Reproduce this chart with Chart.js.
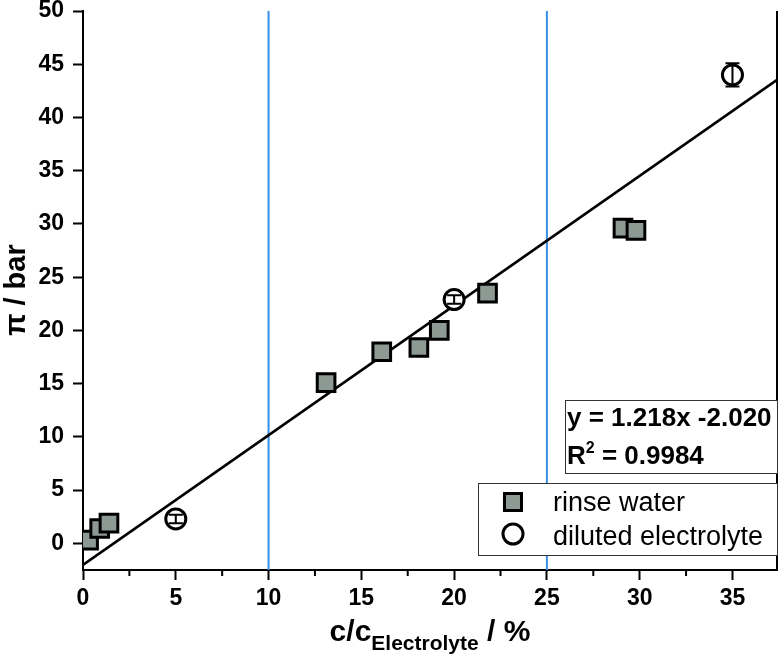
<!DOCTYPE html>
<html>
<head>
<meta charset="utf-8">
<script src="https://cdn.jsdelivr.net/npm/chart.js@4.4.0/dist/chart.umd.min.js"></script>
<style>
  html, body { margin: 0; padding: 0; background: #fff; }
</style>
</head>
<body>
<canvas id="chart" width="780" height="656"></canvas>
<script>
// data
const rinseX = [0.3, 0.9, 1.4, 13.1, 16.1, 18.1, 19.2, 21.8, 29.1, 29.8];
const rinseY = [0.3, 1.4, 1.9, 15.1, 18.0, 18.4, 20.0, 23.5, 29.6, 29.4];
const dilutedX = [5, 20, 35];
const dilutedY = [2.3, 22.9, 44.0];
const dilutedErr = [0.4, 0.4, 1.1];
const fitSlope = 1.218;
const fitIntercept = -2.020;
const guideLines = [10, 25];
const xTicks = [0, 5, 10, 15, 20, 25, 30, 35];
const xMinorTicks = [2.5, 7.5, 12.5, 17.5, 22.5, 27.5, 32.5];
const yTicks = [0, 5, 10, 15, 20, 25, 30, 35, 40, 45, 50];
const xMin = 0, xMax = 37.4, yMin = -2.5, yMax = 50;

const FONT = '"Liberation Sans", Arial, sans-serif';
const rinseColor = '#8d9993';

// keep tick labels from pushing the plot area in
const noPad = s => {
    s.paddingLeft = 0; s.paddingRight = 0; s.paddingTop = 0; s.paddingBottom = 0;
    s.getPadding = () => ({ left: 0, top: 0, right: 0, bottom: 0 });
};

// extra drawing: right frame, minor ticks, error bars, titles, boxes
const decorations = {
    id: 'decorations',
    afterDatasetsDraw(chart) {
        const ctx = chart.ctx;
        const xs = chart.scales.x, ys = chart.scales.y;
        ctx.save();
        ctx.strokeStyle = '#000';
        ctx.lineWidth = 2;
        dilutedX.forEach((v, i) => {
            const px = xs.getPixelForValue(v);
            const top = ys.getPixelForValue(dilutedY[i] + dilutedErr[i]);
            const bot = ys.getPixelForValue(dilutedY[i] - dilutedErr[i]);
            ctx.beginPath();
            ctx.moveTo(px, top); ctx.lineTo(px, bot);
            ctx.moveTo(px - 7, top); ctx.lineTo(px + 7, top);
            ctx.moveTo(px - 7, bot); ctx.lineTo(px + 7, bot);
            ctx.stroke();
        });
        ctx.restore();
    },
    afterDraw(chart) {
        const ctx = chart.ctx;
        const xs = chart.scales.x;
        const area = chart.chartArea;
        ctx.save();
        ctx.strokeStyle = '#000';
        ctx.lineWidth = 2;
        // right frame
        ctx.beginPath();
        ctx.moveTo(area.right, area.top);
        ctx.lineTo(area.right, area.bottom + 1);
        ctx.stroke();
        // minor ticks on x
        ctx.beginPath();
        xMinorTicks.forEach(v => {
            const px = xs.getPixelForValue(v);
            ctx.moveTo(px, area.bottom);
            ctx.lineTo(px, area.bottom + 6);
        });
        ctx.stroke();

        // equation box
        ctx.lineWidth = 1;
        ctx.strokeStyle = '#333';
        ctx.fillStyle = '#fff';
        ctx.fillRect(565, 400, area.right - 565, 73);
        ctx.strokeRect(565.5, 400.5, area.right - 565, 73);
        ctx.fillStyle = '#000';
        ctx.textAlign = 'left';
        ctx.textBaseline = 'alphabetic';
        ctx.font = 'bold 26px ' + FONT;
        ctx.fillText('y = 1.218x -2.020', 567, 426);
        ctx.fillText('R', 567, 464);
        const w = ctx.measureText('R').width;
        ctx.font = 'bold 16px ' + FONT;
        ctx.fillText('2', 567 + w, 453);
        const w2 = ctx.measureText('2').width;
        ctx.font = 'bold 26px ' + FONT;
        ctx.fillText(' = 0.9984', 567 + w + w2, 464);

        // legend box
        ctx.fillStyle = '#fff';
        ctx.fillRect(478, 483, area.right - 478, 72);
        ctx.strokeRect(478.5, 483.5, area.right - 478, 72);
        ctx.lineWidth = 3;
        ctx.strokeStyle = '#000';
        ctx.fillStyle = rinseColor;
        ctx.fillRect(504.5, 493.5, 17, 17);
        ctx.strokeRect(504.5, 493.5, 17, 17);
        ctx.fillStyle = '#fff';
        ctx.beginPath();
        ctx.arc(513, 534, 10, 0, Math.PI * 2);
        ctx.fill();
        ctx.stroke();
        ctx.fillStyle = '#000';
        ctx.font = '27px ' + FONT;
        ctx.fillText('rinse water', 553, 511);
        ctx.fillText('diluted electrolyte', 553, 545);

        // x title with subscript
        const cx = (area.left + area.right) / 2;
        const mainFont = 'bold 30px ' + FONT;
        const subFont = 'bold 21px ' + FONT;
        ctx.font = mainFont;
        const a = ctx.measureText('c/c').width;
        const c = ctx.measureText(' / %').width;
        ctx.font = subFont;
        const b = ctx.measureText('Electrolyte').width;
        const x0 = cx - (a + b + c) / 2;
        ctx.font = mainFont;
        ctx.fillText('c/c', x0, 641);
        ctx.font = subFont;
        ctx.fillText('Electrolyte', x0 + a, 650);
        ctx.font = mainFont;
        ctx.fillText(' / %', x0 + a + b, 641);

        // y title
        ctx.save();
        ctx.translate(25, 290);
        ctx.rotate(-Math.PI / 2);
        ctx.textAlign = 'center';
        ctx.font = 'bold 29px ' + FONT;
        ctx.fillText('\u03c0 / bar', 0, 0);
        ctx.restore();

        ctx.restore();
    }
};

const tickFont = { family: FONT, size: 23, weight: 'bold' };

const datasets = [
    {
        label: 'rinse water',
        data: rinseX.map((x, i) => ({ x: x, y: rinseY[i] })),
        pointStyle: 'rect', pointRadius: 12.5, pointBorderWidth: 3,
        pointBackgroundColor: rinseColor, pointBorderColor: '#000',
        order: 1
    },
    {
        label: 'diluted electrolyte',
        data: dilutedX.map((x, i) => ({ x: x, y: dilutedY[i] })),
        pointStyle: 'circle', pointRadius: 10, pointBorderWidth: 3,
        pointBackgroundColor: '#fff', pointBorderColor: '#000',
        order: 0
    },
    {
        label: 'fit',
        data: [
            { x: xMin, y: fitSlope * xMin + fitIntercept },
            { x: xMax, y: fitSlope * xMax + fitIntercept }
        ],
        showLine: true,
        borderColor: '#000',
        borderWidth: 2.5,
        pointRadius: 0,
        order: 2
    }
];

guideLines.forEach(v => {
    datasets.push({
        label: 'guide ' + v,
        data: [{ x: v, y: yMin }, { x: v, y: yMax }],
        showLine: true,
        borderColor: '#3a8ee8',
        borderWidth: 2,
        pointRadius: 0,
        order: 3
    });
});

new Chart(document.getElementById('chart'), {
    type: 'scatter',
    data: { datasets: datasets },
    options: {
        responsive: false,
        animation: false,
        layout: { autoPadding: false, padding: { top: 11, right: 3, left: 0, bottom: 0 } },
        plugins: { legend: { display: false }, tooltip: { enabled: false } },
        scales: {
            x: {
                type: 'linear', min: xMin, max: xMax,
                afterBuildTicks: s => { s.ticks = xTicks.map(v => ({ value: v })); },
                afterFit: s => { s.height = 86; noPad(s); },
                grid: { drawOnChartArea: false, tickLength: 10, tickWidth: 2, tickColor: '#000' },
                border: { color: '#000', width: 2 },
                ticks: { color: '#000', font: tickFont, padding: 5, maxRotation: 0, autoSkip: false }
            },
            y: {
                type: 'linear', min: yMin, max: yMax,
                afterBuildTicks: s => { s.ticks = yTicks.map(v => ({ value: v })); },
                afterFit: s => { s.width = 83; noPad(s); },
                grid: { drawOnChartArea: false, tickLength: 10, tickWidth: 2, tickColor: '#000' },
                border: { color: '#000', width: 2 },
                ticks: { color: '#000', font: tickFont, padding: 9, autoSkip: false }
            }
        }
    },
    plugins: [decorations]
});
</script>
</body>
</html>
